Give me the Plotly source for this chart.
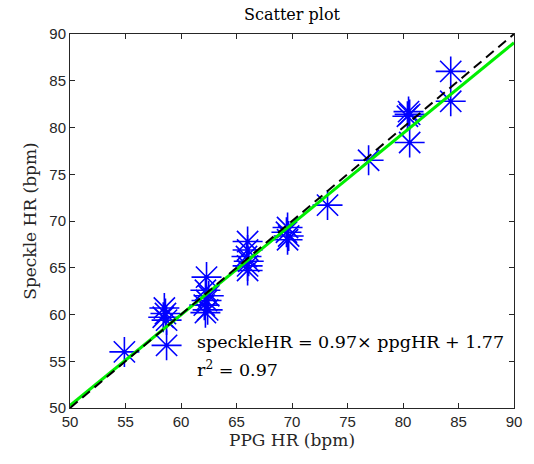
import plotly.graph_objects as go

# PPG HR (bpm) vs speckle HR (bpm)
ppg_hr = [54.9, 58.7, 58.5, 58.6, 58.4, 58.7,
          62.3, 62.2, 62.5, 62.3, 62.1, 62.4, 62.2,
          66.0, 66.0, 65.9, 66.1, 66.0, 66.0,
          69.6, 69.5, 69.7, 69.6,
          73.2, 76.9,
          80.5, 80.6, 80.4, 80.6,
          84.3, 84.3]
speckle_hr = [56.0, 56.7, 60.7, 60.1, 59.7, 59.4,
              64.0, 62.6, 62.0, 61.5, 61.0, 60.5, 60.2,
              67.8, 66.9, 66.2, 65.7, 65.2, 64.7,
              69.3, 68.8, 68.4, 68.0,
              71.7, 76.5,
              81.7, 81.4, 81.2, 78.4,
              86.0, 82.8]

slope = 0.97
intercept = 1.77
r2 = 0.97
line_x = [50, 90]
fit_y = [slope * v + intercept for v in line_x]
ident_y = list(line_x)

x_ticks = [50, 55, 60, 65, 70, 75, 80, 85, 90]
y_ticks = [50, 55, 60, 65, 70, 75, 80, 85, 90]

fig = go.Figure()
fig.add_trace(go.Scatter(
    x=ppg_hr, y=speckle_hr, mode="markers",
    marker=dict(symbol="asterisk-open", size=25, color="blue",
                line=dict(color="blue", width=1.6)),
    showlegend=False))
fig.add_trace(go.Scatter(
    x=line_x, y=fit_y, mode="lines",
    line=dict(color="#00ee00", width=3), showlegend=False))
fig.add_trace(go.Scatter(
    x=line_x, y=ident_y, mode="lines",
    line=dict(color="black", width=2, dash="10px,6px"), showlegend=False))

fig.add_annotation(
    x=61.3, y=57.1, xref="x", yref="y", xanchor="left", yanchor="middle",
    text=f"speckleHR = {slope:.2f}× ppgHR + {intercept:.2f}",
    showarrow=False, font=dict(family="DejaVu Serif", size=17.5, color="black"))
fig.add_annotation(
    x=61.3, y=54.2, xref="x", yref="y", xanchor="left", yanchor="middle",
    text=f"r<sup>2</sup> = {r2:.2f}",
    showarrow=False, font=dict(family="DejaVu Serif", size=17.5, color="black"))

axis_common = dict(
    showgrid=False, zeroline=False, showline=True, linecolor="#262626",
    linewidth=1, mirror="ticks", ticks="inside", ticklen=5, tickwidth=1,
    tickcolor="#262626",
    tickfont=dict(family="Liberation Sans", size=15, color="#262626"))

fig.update_xaxes(range=[50, 90], tickvals=x_ticks,
                 title=dict(text="PPG HR (bpm)", standoff=4,
                            font=dict(family="DejaVu Serif", size=17, color="#262626")),
                 **axis_common)
fig.update_yaxes(range=[50, 90], tickvals=y_ticks,
                 title=dict(text="Speckle HR (bpm)", standoff=8,
                            font=dict(family="DejaVu Serif", size=17, color="#262626")),
                 **axis_common)

fig.update_layout(
    width=534, height=464,
    margin=dict(l=70, r=15, t=34, b=56),
    paper_bgcolor="white", plot_bgcolor="white",
    title=dict(text="Scatter plot", x=0.5, xref="paper", xanchor="center",
               y=1 - 14 / 464, yanchor="middle",
               font=dict(family="DejaVu Serif", size=16, color="black")))

fig.write_html("out.html")
